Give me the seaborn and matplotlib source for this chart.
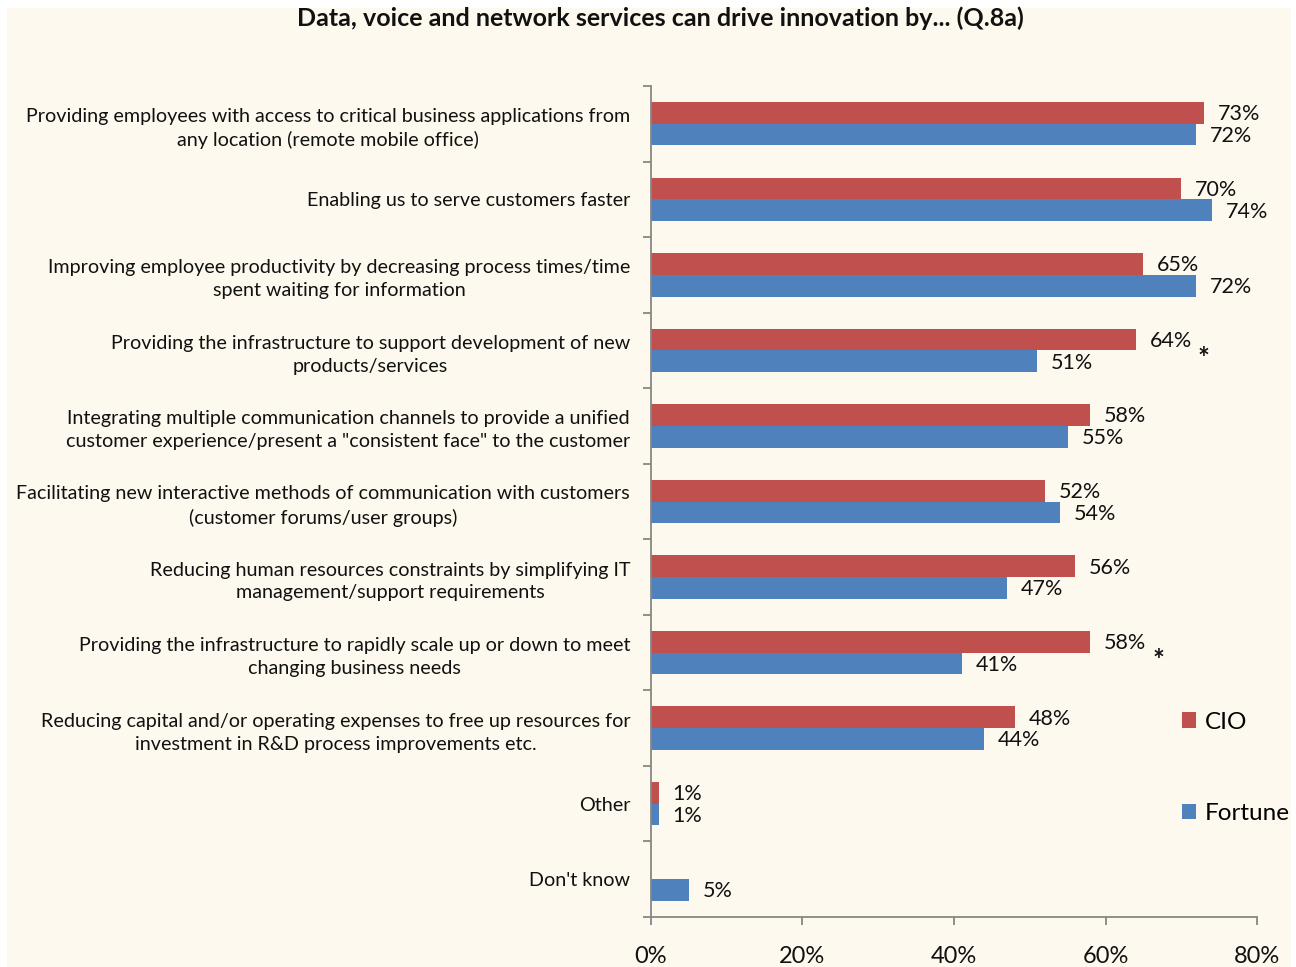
import matplotlib
matplotlib.use("Agg")
import matplotlib.pyplot as plt
from matplotlib.patches import Rectangle, Patch
from matplotlib.ticker import MultipleLocator, FuncFormatter
import numpy as np
import pandas as pd
import seaborn as sns

# ---- data -------------------------------------------------------------
items = [
    "Providing employees with access to critical business applications from\nany location (remote mobile office)",
    "Enabling us to serve customers faster",
    "Improving employee productivity by decreasing process times/time\nspent waiting for information",
    "Providing the infrastructure to support development of new\nproducts/services",
    "Integrating multiple communication channels to provide a unified\ncustomer experience/present a \"consistent face\" to the customer",
    "Facilitating new interactive methods of communication with customers\n(customer forums/user groups)",
    "Reducing human resources constraints by simplifying IT\nmanagement/support requirements",
    "Providing the infrastructure to rapidly scale up or down to meet\nchanging business needs",
    "Reducing capital and/or operating expenses to free up resources for\ninvestment in R&D process improvements etc.",
    "Other",
    "Don't know",
]
cio = [73, 70, 65, 64, 58, 52, 56, 58, 48, 1, np.nan]
fortune = [72, 74, 72, 51, 55, 54, 47, 41, 44, 1, 5]
groups = ["CIO", "Fortune"]
significant = [3, 7]  # rows flagged with an asterisk
title = "Data, voice and network services can drive innovation by... (Q.8a)"

colors = {"CIO": "#C0504D", "Fortune": "#4F81BD"}
cream = "#FEF9EE"
axis_gray = "#868686"
FONT = "Lato"

df = pd.DataFrame({
    "item": items * 2,
    "pct": [v / 100 for v in cio] + [v / 100 for v in fortune],
    "group": ["CIO"] * len(items) + ["Fortune"] * len(items),
})

# ---- figure -----------------------------------------------------------
W, H = 1296, 967
fig = plt.figure(figsize=(W / 100, H / 100), dpi=100, facecolor="white")
fig.patches.append(Rectangle((7 / W, 0), (1291 - 7) / W, 1 - 8 / H,
                             transform=fig.transFigure, facecolor=cream,
                             edgecolor="none", zorder=-10))

ax = fig.add_axes([651 / W, 1 - 917 / H, (1257 - 651) / W, (917 - 86) / H])
ax.set_facecolor("none")

sns.barplot(data=df, y="item", x="pct", hue="group", orient="h",
            order=items, hue_order=groups, palette=colors, saturation=1,
            width=0.575, gap=0, legend=False, ax=ax, errorbar=None)

for c in ax.patches:
    c.set_edgecolor("none")

ax.set_xlim(0, 0.8)
ax.set_ylim(len(items) - 0.5, -0.5)
ax.set_xlabel("")
ax.set_ylabel("")

for s in ["top", "right"]:
    ax.spines[s].set_visible(False)
for s in ["left", "bottom"]:
    ax.spines[s].set_color(axis_gray)
    ax.spines[s].set_linewidth(1.3)

ax.xaxis.set_major_locator(MultipleLocator(0.2))
ax.xaxis.set_major_formatter(FuncFormatter(lambda v, p: f"{v*100:.0f}%"))
ax.tick_params(axis="x", direction="out", length=6, width=1.3,
               color=axis_gray, pad=15, labelsize=17, labelcolor="#111111")
for lab in ax.get_xticklabels():
    lab.set_fontfamily(FONT)

# category axis: labels at centres, tick marks at boundaries
ax.set_yticks(range(len(items)))
ax.set_yticklabels(items)
ax.set_yticks(np.arange(-0.5, len(items)), minor=True)
ax.tick_params(axis="y", which="major", length=0, pad=15, labelsize=14.2,
               labelcolor="#111111")
ax.tick_params(axis="y", which="minor", direction="out", length=6, width=1.3,
               color=axis_gray)
for lab in ax.get_yticklabels():
    lab.set_fontfamily(FONT)
    lab.set_multialignment("center")
    lab.set_linespacing(1.42)

# value labels
for cont, vals in zip(ax.containers, [cio, fortune]):
    for bar, v in zip(cont, vals):
        if bar is None or np.isnan(v):
            continue
        ax.annotate(f"{v:.0f}%", xy=(bar.get_width(), bar.get_y() + bar.get_height() / 2),
                    xytext=(10, -1), textcoords="offset points", ha="left",
                    va="center", fontsize=15.5, fontfamily=FONT, color="#111111")

# significance markers
for r in significant:
    ax.annotate("*", xy=(cio[r] / 100, r), xytext=(49, -6),
                textcoords="offset points", ha="center", va="center",
                fontsize=20, fontweight="bold", fontfamily=FONT,
                color="#111111")

fig.text(660 / W, 1 - 18 / H, title, ha="center", va="center",
         fontsize=18, fontweight="bold", fontfamily=FONT, color="#111111")

handles = [Patch(facecolor=colors[g], edgecolor="none") for g in groups]
fig.legend(handles, groups, loc="center left",
           bbox_to_anchor=(1172 / W, 1 - 768 / H), frameon=False,
           handlelength=0.6, handleheight=0.6, handletextpad=0.35,
           labelspacing=2.9, borderaxespad=0,
           prop={"family": FONT, "size": 17.5})

fig.savefig("out.png", dpi=100, facecolor="white")
